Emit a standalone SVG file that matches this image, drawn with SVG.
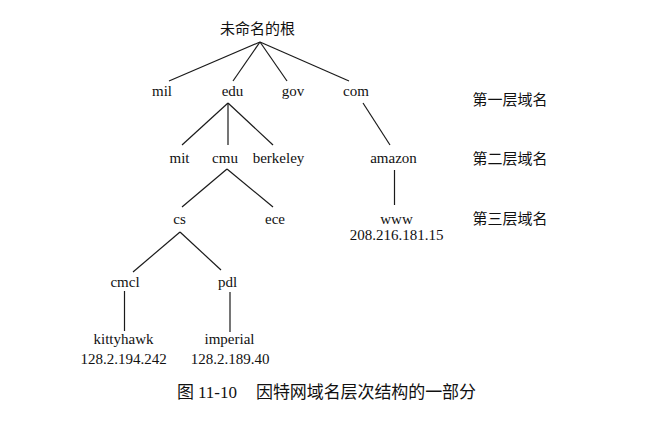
<svg xmlns="http://www.w3.org/2000/svg" width="653" height="422" viewBox="0 0 653 422">
<style>
.t{font-family:"Liberation Serif","Times New Roman",serif;font-size:15px;fill:#111;text-anchor:middle}
.c{font-family:"Noto Sans CJK SC","Noto Sans CJK JP",sans-serif;font-size:15px;fill:#111}
.cap{font-family:"Noto Sans CJK SC",sans-serif;font-size:17px;fill:#111}
.capn{font-family:"Liberation Serif",serif;font-size:17px;fill:#111}
#edges line{stroke:#1a1a1a;stroke-width:1.2;fill:none}
</style>
<rect width="653" height="422" fill="#fff"/>
<g id="edges">
<line x1="260" y1="42" x2="169" y2="81"/>
<line x1="260" y1="42" x2="233" y2="81"/>
<line x1="260" y1="42" x2="287" y2="81"/>
<line x1="260" y1="42" x2="349" y2="81"/>
<line x1="228" y1="103" x2="182" y2="145"/>
<line x1="228" y1="103" x2="228" y2="145"/>
<line x1="228" y1="103" x2="273" y2="145"/>
<line x1="363" y1="103" x2="390" y2="145"/>
<line x1="227" y1="169" x2="182" y2="207"/>
<line x1="227" y1="169" x2="273" y2="207"/>
<line x1="394.5" y1="170" x2="394.5" y2="205"/>
<line x1="180" y1="232" x2="133" y2="272"/>
<line x1="180" y1="232" x2="221" y2="270"/>
<line x1="124.5" y1="291" x2="124.5" y2="331"/>
<line x1="230" y1="292" x2="230" y2="332"/>
</g>
<g id="root"><text class="c" x="220" y="34">未命名的根</text></g>
<g id="mil"><text class="t" x="162" y="96">mil</text></g>
<g id="edu"><text class="t" x="232.5" y="96">edu</text></g>
<g id="gov"><text class="t" x="293" y="96">gov</text></g>
<g id="com"><text class="t" x="356" y="96">com</text></g>
<g id="mit"><text class="t" x="179.5" y="162.5">mit</text></g>
<g id="cmu"><text class="t" x="225" y="162.5">cmu</text></g>
<g id="berkeley"><text class="t" x="278.5" y="162.5">berkeley</text></g>
<g id="amazon"><text class="t" x="393.5" y="162.5">amazon</text></g>
<g id="cs"><text class="t" x="179.5" y="223.5">cs</text></g>
<g id="ece"><text class="t" x="275" y="223.5">ece</text></g>
<g id="www"><text class="t" x="396.5" y="223.5">www</text><text class="t" x="396.5" y="240">208.216.181.15</text></g>
<g id="cmcl"><text class="t" x="125" y="287">cmcl</text></g>
<g id="pdl"><text class="t" x="227.5" y="287">pdl</text></g>
<g id="kittyhawk"><text class="t" x="123.5" y="344">kittyhawk</text><text class="t" x="123.5" y="363.5">128.2.194.242</text></g>
<g id="imperial"><text class="t" x="229.5" y="344">imperial</text><text class="t" x="230" y="363.5">128.2.189.40</text></g>
<g id="levels">
<text class="c" x="472.5" y="105">第一层域名</text>
<text class="c" x="472.5" y="163.5">第二层域名</text>
<text class="c" x="472.5" y="224">第三层域名</text>
</g>
<g id="caption">
<text class="cap" x="177" y="397.5">图</text>
<text class="capn" x="198" y="397.5">11-10</text>
<text class="cap" x="256" y="397.5" textLength="220">因特网域名层次结构的一部分</text>
</g>
</svg>
